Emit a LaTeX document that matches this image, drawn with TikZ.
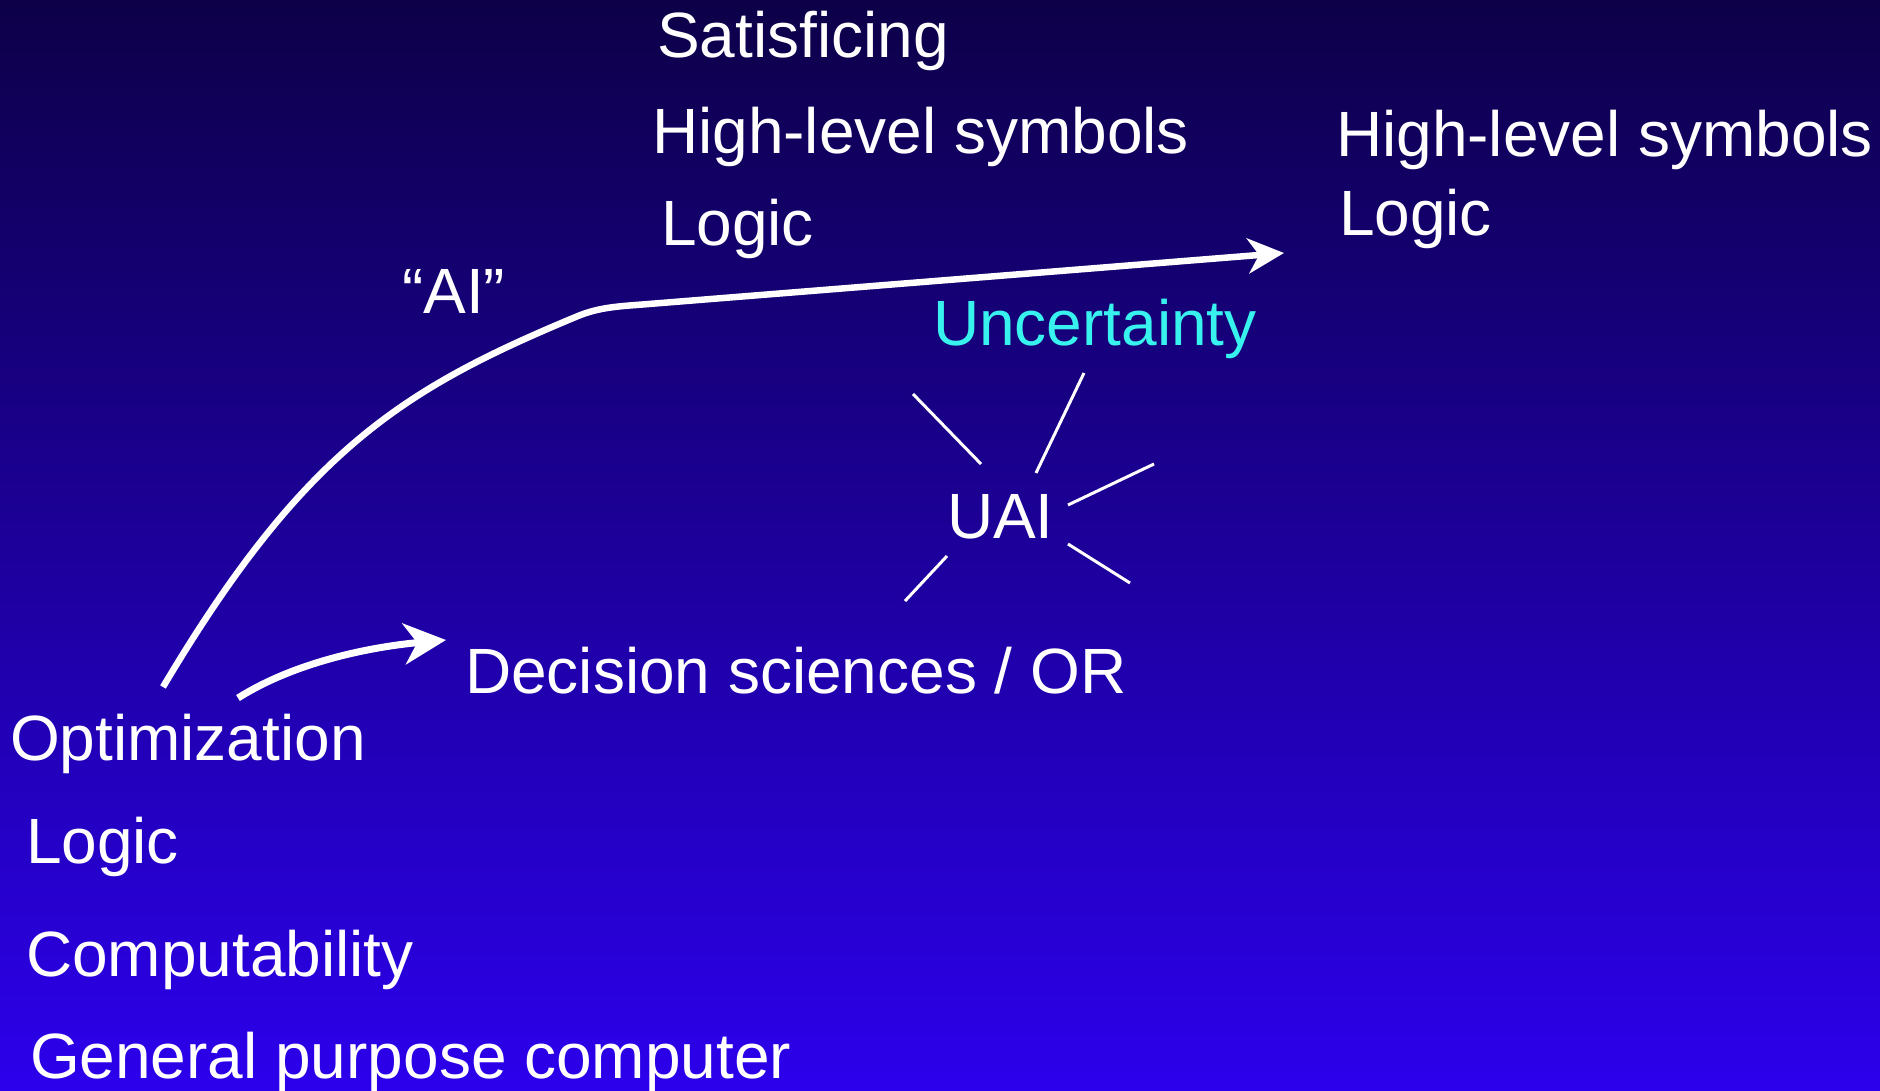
\documentclass[tikz,border=0pt]{standalone}
\usepackage{fontspec}
\setmainfont{Liberation Sans}
\usetikzlibrary{arrows.meta}
\definecolor{bgtop}{RGB}{13,0,72}
\definecolor{bgbot}{RGB}{44,0,236}
\definecolor{uncert}{RGB}{56,242,238}
\begin{document}
\begin{tikzpicture}[x=1pt,y=-1pt,
  lbl/.style={anchor=base west, inner sep=0pt, outer sep=0pt, text=white,
    font=\fontsize{64}{64}\selectfont},
  flow/.style={draw=white, line width=6.5pt},
  ray/.style={draw=white, line width=3pt}]
% background
\shade[top color=bgtop, bottom color=bgbot] (0,0) rectangle (1880,1091);
\useasboundingbox (0,0) rectangle (1880,1091);

% upper column
\node[lbl] (satis) at (657,58) {Satisficing};
\node[lbl] (hls1) at (652,154) {High-level symbols};
\node[lbl] (logic1) at (661,246) {Logic};
\node[lbl] (ai) at (402,314) {“AI”};

% right column
\node[lbl] (hls2) at (1336,157) {High-level symbols};
\node[lbl] (logic2) at (1339,236) {Logic};

% uncertainty and UAI
\node[lbl, text=uncert] (unc) at (933,345) {Uncertainty};
\node[lbl] (uai) at (947,538) {UAI};

% decision sciences
\node[lbl] (dec) at (465,693) {Decision sciences / OR};

% lower left stack
\node[lbl] (opt) at (10,760) {Optimization};
\node[lbl] (logic0) at (26,863) {Logic};
\node[lbl] (comp) at (26,976) {Computability};
\node[lbl] (gpc) at (30,1078) {General purpose computer};

% arrow end points
\coordinate (aiStart) at (163,687);
\coordinate (aiBend) at (578,316);
\coordinate (aiJoin) at (645,304.3);
\coordinate (aiTip) at (1284,253);
\coordinate (decStart) at (238,698);
\coordinate (decTip) at (446,640);

% "AI" path: rising arc, soft bend, long straight run
\draw[flow, -{Stealth[length=36pt,width=35pt,inset=11pt]}]
  (aiStart) .. controls (305,448) and (405,388) .. (aiBend)
  .. controls (600,307) and (620,306.3) .. (aiJoin) -- (aiTip);

% decision sciences arrow
\draw[flow, line width=7pt, -{Stealth[length=42pt,width=41pt,inset=13pt]}]
  (decStart) .. controls (295,662) and (370,647) .. (decTip);

% rays around UAI
\draw[ray] (913,394) -- (981,464);
\draw[ray] (1084,373) -- (1036,473);
\draw[ray] (1154,464) -- (1068,505);
\draw[ray] (1068,544) -- (1130,583);
\draw[ray] (947,556) -- (905,601);
\end{tikzpicture}
\end{document}
